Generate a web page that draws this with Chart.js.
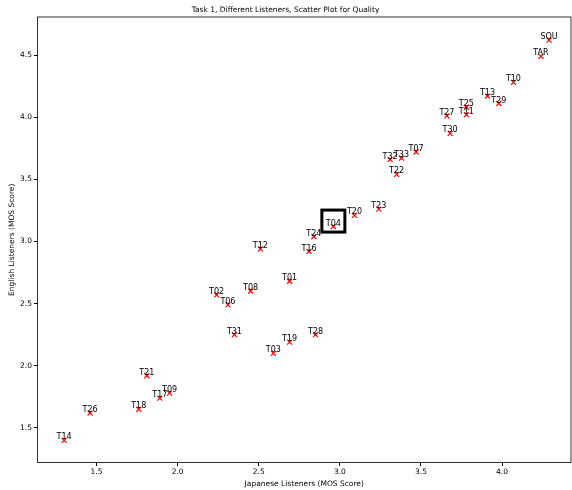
<!DOCTYPE html>
<html lang="en">
<head>
    <meta charset="UTF-8">
    <title>Task 1, Different Listeners, Scatter Plot for Quality</title>
    <style>
        body {
            margin: 0;
            background: #fff;
        }
        #wrap {
            width: 572px;
            height: 490px;
        }
    </style>
    <script src="https://cdn.jsdelivr.net/npm/chart.js"></script>
</head>
<body>
    <div id="wrap"><canvas id="qualityChart"></canvas></div>

    <script>
        // systems and their MOS scores
        const systems = ['SOU', 'TAR', 'T10', 'T13', 'T29', 'T25', 'T11', 'T27', 'T30', 'T07', 'T32', 'T33',
            'T22', 'T23', 'T20', 'T04', 'T24', 'T16', 'T12', 'T01', 'T08', 'T02', 'T06', 'T31',
            'T28', 'T19', 'T03', 'T21', 'T09', 'T17', 'T18', 'T26', 'T14'];
        const japaneseScores = [4.29, 4.24, 4.07, 3.91, 3.98, 3.78, 3.78, 3.66, 3.68, 3.47, 3.31, 3.38,
            3.35, 3.24, 3.09, 2.96, 2.84, 2.81, 2.51, 2.69, 2.45, 2.24, 2.31, 2.35,
            2.85, 2.69, 2.59, 1.81, 1.95, 1.89, 1.76, 1.46, 1.30];
        const englishScores = [4.62, 4.49, 4.28, 4.17, 4.11, 4.08, 4.02, 4.01, 3.87, 3.72, 3.66, 3.67,
            3.54, 3.26, 3.21, 3.12, 3.04, 2.92, 2.94, 2.68, 2.60, 2.57, 2.49, 2.25,
            2.25, 2.19, 2.10, 1.92, 1.78, 1.74, 1.65, 1.62, 1.40];
        const xTicks = [1.5, 2.0, 2.5, 3.0, 3.5, 4.0];
        const yTicks = [1.5, 2.0, 2.5, 3.0, 3.5, 4.0, 4.5];
        const highlighted = 'T04';

        const points = systems.map((s, i) => ({ x: japaneseScores[i], y: englishScores[i] }));

        // axes frame, point names and the highlight box
        const annotate = {
            id: 'annotate',
            afterDatasetsDraw(chart) {
                const ctx = chart.ctx;
                const area = chart.chartArea;
                ctx.save();
                ctx.strokeStyle = '#000';
                ctx.lineWidth = 0.8;
                ctx.strokeRect(area.left, area.top, area.right - area.left, area.bottom - area.top);

                ctx.fillStyle = '#000';
                ctx.font = '8px "DejaVu Sans"';
                ctx.textAlign = 'center';
                ctx.textBaseline = 'bottom';
                const meta = chart.getDatasetMeta(0);
                meta.data.forEach((pt, i) => {
                    ctx.fillText(systems[i], pt.x, pt.y + 1);
                });

                const idx = systems.indexOf(highlighted);
                const hp = meta.data[idx];
                ctx.lineWidth = 3;
                ctx.strokeRect(hp.x - 11.5, hp.y - 16.5, 23, 22);
                ctx.restore();
            }
        };

        new Chart(document.getElementById('qualityChart').getContext('2d'), {
            type: 'scatter',
            data: {
                datasets: [{
                    data: points,
                    pointStyle: 'crossRot',
                    pointRadius: 3.5,
                    pointHoverRadius: 3.5,
                    borderColor: '#ff0000',
                    backgroundColor: '#ff0000',
                    borderWidth: 1.2
                }]
            },
            plugins: [annotate],
            options: {
                responsive: true,
                maintainAspectRatio: false,
                animation: false,
                layout: { autoPadding: false, padding: { right: 1, left: 0, top: 0, bottom: 0 } },
                plugins: {
                    legend: { display: false },
                    tooltip: { enabled: false },
                    title: {
                        display: true,
                        text: 'Task 1, Different Listeners, Scatter Plot for Quality',
                        color: '#000',
                        font: { family: 'DejaVu Sans', size: 7.5, weight: 'normal' },
                        padding: { top: 6, bottom: 2 }
                    }
                },
                scales: {
                    x: {
                        type: 'linear',
                        min: 1.136,
                        max: 4.425,
                        afterBuildTicks: (scale) => { scale.ticks = xTicks.map(v => ({ value: v })); },
                        afterFit: (scale) => { scale.height = 27.5; },
                        grid: { drawOnChartArea: false, drawTicks: true, tickLength: 3.5, color: '#000' },
                        border: { display: false },
                        ticks: {
                            color: '#000',
                            padding: 2,
                            font: { family: 'DejaVu Sans', size: 7.5 },
                            callback: (v) => v.toFixed(1)
                        },
                        title: {
                            display: true,
                            text: 'Japanese Listeners (MOS Score)',
                            color: '#000',
                            font: { family: 'DejaVu Sans', size: 7.5 },
                            padding: { top: 0, bottom: 1 }
                        }
                    },
                    y: {
                        type: 'linear',
                        min: 1.222,
                        max: 4.806,
                        afterBuildTicks: (scale) => { scale.ticks = yTicks.map(v => ({ value: v })); },
                        afterFit: (scale) => { scale.width = 37.5; },
                        grid: { drawOnChartArea: false, drawTicks: true, tickLength: 3.5, color: '#000' },
                        border: { display: false },
                        ticks: {
                            color: '#000',
                            padding: 2,
                            font: { family: 'DejaVu Sans', size: 7.5 },
                            callback: (v) => v.toFixed(1)
                        },
                        title: {
                            display: true,
                            text: 'English Listeners (MOS Score)',
                            color: '#000',
                            font: { family: 'DejaVu Sans', size: 7.5 },
                            padding: { top: 8, bottom: 4 }
                        }
                    }
                }
            }
        });
    </script>
</body>
</html>
